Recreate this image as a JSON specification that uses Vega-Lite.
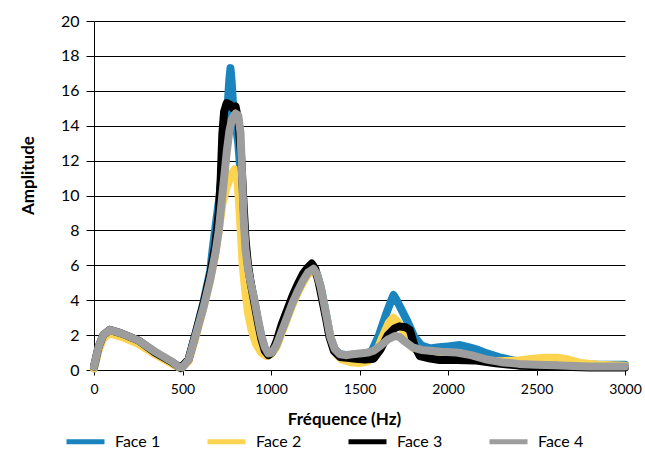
{
  "$schema": "https://vega.github.io/schema/vega-lite/v6.json",
  "width": 531,
  "height": 349,
  "autosize": {"type": "none"},
  "padding": {"left": 94, "top": 21, "right": 20, "bottom": 84},
  "background": "white",
  "config": {
    "view": {"stroke": null},
    "font": "Lato, sans-serif"
  },
  "data": {"values": [
{"s":"Face 1","f":0,"a":0.1},{"s":"Face 1","f":25,"a":1.2},{"s":"Face 1","f":52,"a":1.9},{"s":"Face 1","f":89,"a":2.2},{"s":"Face 1","f":155,"a":2.0},{"s":"Face 1","f":250,"a":1.6},{"s":"Face 1","f":345,"a":1.0},{"s":"Face 1","f":440,"a":0.4},{"s":"Face 1","f":490,"a":0.1},{"s":"Face 1","f":534,"a":0.6},{"s":"Face 1","f":572,"a":2.0},{"s":"Face 1","f":619,"a":3.9},{"s":"Face 1","f":657,"a":5.7},{"s":"Face 1","f":670,"a":6.9},{"s":"Face 1","f":690,"a":8.5},{"s":"Face 1","f":710,"a":10},{"s":"Face 1","f":730,"a":12},{"s":"Face 1","f":745,"a":13.8},{"s":"Face 1","f":758,"a":15.6},{"s":"Face 1","f":765,"a":16.7},{"s":"Face 1","f":771,"a":17.3},{"s":"Face 1","f":778,"a":16.5},{"s":"Face 1","f":785,"a":15.3},{"s":"Face 1","f":800,"a":14.2},{"s":"Face 1","f":815,"a":13},{"s":"Face 1","f":830,"a":11},{"s":"Face 1","f":845,"a":8.8},{"s":"Face 1","f":856,"a":7},{"s":"Face 1","f":870,"a":5.9},{"s":"Face 1","f":885,"a":5.0},{"s":"Face 1","f":907,"a":3.9},{"s":"Face 1","f":925,"a":2.9},{"s":"Face 1","f":945,"a":1.9},{"s":"Face 1","f":965,"a":1.2},{"s":"Face 1","f":985,"a":0.9},{"s":"Face 1","f":1005,"a":1.0},{"s":"Face 1","f":1030,"a":1.5},{"s":"Face 1","f":1060,"a":2.3},{"s":"Face 1","f":1090,"a":3.1},{"s":"Face 1","f":1120,"a":3.9},{"s":"Face 1","f":1150,"a":4.6},{"s":"Face 1","f":1180,"a":5.2},{"s":"Face 1","f":1210,"a":5.7},{"s":"Face 1","f":1235,"a":5.9},{"s":"Face 1","f":1260,"a":5.5},{"s":"Face 1","f":1280,"a":4.8},{"s":"Face 1","f":1296,"a":4.0},{"s":"Face 1","f":1315,"a":3.0},{"s":"Face 1","f":1335,"a":1.9},{"s":"Face 1","f":1360,"a":1.2},{"s":"Face 1","f":1390,"a":0.9},{"s":"Face 1","f":1430,"a":0.85},{"s":"Face 1","f":1480,"a":0.85},{"s":"Face 1","f":1530,"a":0.9},{"s":"Face 1","f":1570,"a":1.1},{"s":"Face 1","f":1610,"a":2.0},{"s":"Face 1","f":1650,"a":3.2},{"s":"Face 1","f":1680,"a":4.0},{"s":"Face 1","f":1692,"a":4.3},{"s":"Face 1","f":1710,"a":4.0},{"s":"Face 1","f":1740,"a":3.4},{"s":"Face 1","f":1770,"a":2.8},{"s":"Face 1","f":1810,"a":1.9},{"s":"Face 1","f":1850,"a":1.4},{"s":"Face 1","f":1897,"a":1.24},{"s":"Face 1","f":1950,"a":1.3},{"s":"Face 1","f":2000,"a":1.35},{"s":"Face 1","f":2068,"a":1.43},{"s":"Face 1","f":2120,"a":1.3},{"s":"Face 1","f":2170,"a":1.15},{"s":"Face 1","f":2220,"a":0.95},{"s":"Face 1","f":2300,"a":0.7},{"s":"Face 1","f":2370,"a":0.55},{"s":"Face 1","f":2450,"a":0.45},{"s":"Face 1","f":2550,"a":0.4},{"s":"Face 1","f":2700,"a":0.35},{"s":"Face 1","f":2850,"a":0.3},{"s":"Face 1","f":3000,"a":0.3},
{"s":"Face 2","f":0,"a":0.1},{"s":"Face 2","f":25,"a":1.1},{"s":"Face 2","f":52,"a":1.8},{"s":"Face 2","f":89,"a":2.1},{"s":"Face 2","f":155,"a":1.9},{"s":"Face 2","f":250,"a":1.5},{"s":"Face 2","f":345,"a":0.9},{"s":"Face 2","f":440,"a":0.35},{"s":"Face 2","f":490,"a":0.1},{"s":"Face 2","f":534,"a":0.5},{"s":"Face 2","f":572,"a":1.8},{"s":"Face 2","f":619,"a":3.6},{"s":"Face 2","f":657,"a":5.2},{"s":"Face 2","f":686,"a":6.7},{"s":"Face 2","f":705,"a":8.0},{"s":"Face 2","f":725,"a":9.5},{"s":"Face 2","f":750,"a":10.5},{"s":"Face 2","f":775,"a":11.2},{"s":"Face 2","f":795,"a":11.5},{"s":"Face 2","f":810,"a":11.0},{"s":"Face 2","f":820,"a":9.5},{"s":"Face 2","f":830,"a":7.8},{"s":"Face 2","f":840,"a":6.0},{"s":"Face 2","f":855,"a":4.5},{"s":"Face 2","f":870,"a":3.3},{"s":"Face 2","f":890,"a":2.3},{"s":"Face 2","f":915,"a":1.5},{"s":"Face 2","f":945,"a":1.0},{"s":"Face 2","f":975,"a":0.8},{"s":"Face 2","f":1000,"a":0.9},{"s":"Face 2","f":1030,"a":1.3},{"s":"Face 2","f":1060,"a":2.1},{"s":"Face 2","f":1090,"a":2.9},{"s":"Face 2","f":1120,"a":3.7},{"s":"Face 2","f":1150,"a":4.4},{"s":"Face 2","f":1180,"a":5.0},{"s":"Face 2","f":1210,"a":5.5},{"s":"Face 2","f":1240,"a":5.7},{"s":"Face 2","f":1260,"a":5.4},{"s":"Face 2","f":1280,"a":4.7},{"s":"Face 2","f":1296,"a":3.9},{"s":"Face 2","f":1315,"a":2.9},{"s":"Face 2","f":1340,"a":1.7},{"s":"Face 2","f":1370,"a":0.9},{"s":"Face 2","f":1400,"a":0.6},{"s":"Face 2","f":1450,"a":0.45},{"s":"Face 2","f":1500,"a":0.4},{"s":"Face 2","f":1550,"a":0.5},{"s":"Face 2","f":1590,"a":0.9},{"s":"Face 2","f":1630,"a":1.9},{"s":"Face 2","f":1665,"a":2.7},{"s":"Face 2","f":1690,"a":3.0},{"s":"Face 2","f":1720,"a":2.7},{"s":"Face 2","f":1760,"a":2.0},{"s":"Face 2","f":1800,"a":1.3},{"s":"Face 2","f":1850,"a":0.9},{"s":"Face 2","f":1900,"a":0.75},{"s":"Face 2","f":2000,"a":0.7},{"s":"Face 2","f":2100,"a":0.65},{"s":"Face 2","f":2200,"a":0.55},{"s":"Face 2","f":2300,"a":0.5},{"s":"Face 2","f":2400,"a":0.55},{"s":"Face 2","f":2480,"a":0.65},{"s":"Face 2","f":2550,"a":0.7},{"s":"Face 2","f":2620,"a":0.7},{"s":"Face 2","f":2680,"a":0.6},{"s":"Face 2","f":2750,"a":0.4},{"s":"Face 2","f":2850,"a":0.3},{"s":"Face 2","f":3000,"a":0.25},
{"s":"Face 3","f":0,"a":0.2},{"s":"Face 3","f":25,"a":1.3},{"s":"Face 3","f":52,"a":2.0},{"s":"Face 3","f":89,"a":2.3},{"s":"Face 3","f":155,"a":2.1},{"s":"Face 3","f":250,"a":1.7},{"s":"Face 3","f":345,"a":1.0},{"s":"Face 3","f":440,"a":0.45},{"s":"Face 3","f":490,"a":0.12},{"s":"Face 3","f":534,"a":0.6},{"s":"Face 3","f":572,"a":2.0},{"s":"Face 3","f":619,"a":3.8},{"s":"Face 3","f":657,"a":5.5},{"s":"Face 3","f":686,"a":7.2},{"s":"Face 3","f":705,"a":9},{"s":"Face 3","f":716,"a":11},{"s":"Face 3","f":725,"a":13.5},{"s":"Face 3","f":735,"a":14.8},{"s":"Face 3","f":750,"a":15.3},{"s":"Face 3","f":770,"a":15.2},{"s":"Face 3","f":785,"a":15.0},{"s":"Face 3","f":800,"a":15.1},{"s":"Face 3","f":815,"a":14.3},{"s":"Face 3","f":830,"a":12.5},{"s":"Face 3","f":845,"a":9.5},{"s":"Face 3","f":856,"a":7.5},{"s":"Face 3","f":870,"a":6.0},{"s":"Face 3","f":885,"a":5.0},{"s":"Face 3","f":907,"a":3.8},{"s":"Face 3","f":925,"a":2.8},{"s":"Face 3","f":945,"a":1.8},{"s":"Face 3","f":965,"a":1.1},{"s":"Face 3","f":985,"a":0.85},{"s":"Face 3","f":1005,"a":1.0},{"s":"Face 3","f":1030,"a":1.6},{"s":"Face 3","f":1060,"a":2.6},{"s":"Face 3","f":1090,"a":3.4},{"s":"Face 3","f":1120,"a":4.2},{"s":"Face 3","f":1150,"a":4.9},{"s":"Face 3","f":1180,"a":5.5},{"s":"Face 3","f":1210,"a":5.9},{"s":"Face 3","f":1230,"a":6.1},{"s":"Face 3","f":1250,"a":5.8},{"s":"Face 3","f":1270,"a":5.0},{"s":"Face 3","f":1290,"a":4.0},{"s":"Face 3","f":1310,"a":3.0},{"s":"Face 3","f":1330,"a":1.9},{"s":"Face 3","f":1355,"a":1.1},{"s":"Face 3","f":1390,"a":0.75},{"s":"Face 3","f":1430,"a":0.7},{"s":"Face 3","f":1480,"a":0.65},{"s":"Face 3","f":1530,"a":0.6},{"s":"Face 3","f":1580,"a":0.65},{"s":"Face 3","f":1620,"a":1.2},{"s":"Face 3","f":1660,"a":2.0},{"s":"Face 3","f":1700,"a":2.4},{"s":"Face 3","f":1725,"a":2.5},{"s":"Face 3","f":1760,"a":2.45},{"s":"Face 3","f":1784,"a":2.3},{"s":"Face 3","f":1810,"a":1.4},{"s":"Face 3","f":1841,"a":0.8},{"s":"Face 3","f":1900,"a":0.65},{"s":"Face 3","f":1953,"a":0.57},{"s":"Face 3","f":2050,"a":0.57},{"s":"Face 3","f":2150,"a":0.55},{"s":"Face 3","f":2270,"a":0.38},{"s":"Face 3","f":2400,"a":0.25},{"s":"Face 3","f":2600,"a":0.2},{"s":"Face 3","f":2800,"a":0.15},{"s":"Face 3","f":3000,"a":0.15},
{"s":"Face 4","f":0,"a":0.2},{"s":"Face 4","f":25,"a":1.3},{"s":"Face 4","f":52,"a":2.0},{"s":"Face 4","f":89,"a":2.3},{"s":"Face 4","f":155,"a":2.1},{"s":"Face 4","f":250,"a":1.7},{"s":"Face 4","f":345,"a":1.05},{"s":"Face 4","f":440,"a":0.48},{"s":"Face 4","f":477,"a":0.19},{"s":"Face 4","f":500,"a":0.15},{"s":"Face 4","f":534,"a":0.57},{"s":"Face 4","f":572,"a":1.9},{"s":"Face 4","f":619,"a":3.6},{"s":"Face 4","f":657,"a":5.2},{"s":"Face 4","f":686,"a":6.7},{"s":"Face 4","f":705,"a":8.0},{"s":"Face 4","f":720,"a":9.5},{"s":"Face 4","f":735,"a":11},{"s":"Face 4","f":750,"a":12.5},{"s":"Face 4","f":765,"a":13.7},{"s":"Face 4","f":780,"a":14.4},{"s":"Face 4","f":800,"a":14.7},{"s":"Face 4","f":815,"a":14.6},{"s":"Face 4","f":828,"a":13.6},{"s":"Face 4","f":837,"a":11},{"s":"Face 4","f":845,"a":8.8},{"s":"Face 4","f":856,"a":6.9},{"s":"Face 4","f":870,"a":5.8},{"s":"Face 4","f":885,"a":5.0},{"s":"Face 4","f":907,"a":4.0},{"s":"Face 4","f":925,"a":3.0},{"s":"Face 4","f":945,"a":2.0},{"s":"Face 4","f":965,"a":1.3},{"s":"Face 4","f":985,"a":0.95},{"s":"Face 4","f":1005,"a":1.0},{"s":"Face 4","f":1030,"a":1.4},{"s":"Face 4","f":1060,"a":2.2},{"s":"Face 4","f":1090,"a":3.0},{"s":"Face 4","f":1120,"a":3.8},{"s":"Face 4","f":1150,"a":4.5},{"s":"Face 4","f":1180,"a":5.1},{"s":"Face 4","f":1210,"a":5.6},{"s":"Face 4","f":1240,"a":5.8},{"s":"Face 4","f":1260,"a":5.5},{"s":"Face 4","f":1280,"a":4.8},{"s":"Face 4","f":1296,"a":4.0},{"s":"Face 4","f":1315,"a":3.0},{"s":"Face 4","f":1335,"a":1.9},{"s":"Face 4","f":1360,"a":1.2},{"s":"Face 4","f":1390,"a":0.9},{"s":"Face 4","f":1420,"a":0.85},{"s":"Face 4","f":1460,"a":0.9},{"s":"Face 4","f":1500,"a":0.95},{"s":"Face 4","f":1550,"a":1.0},{"s":"Face 4","f":1580,"a":1.1},{"s":"Face 4","f":1620,"a":1.4},{"s":"Face 4","f":1660,"a":1.75},{"s":"Face 4","f":1700,"a":1.95},{"s":"Face 4","f":1725,"a":1.9},{"s":"Face 4","f":1760,"a":1.6},{"s":"Face 4","f":1800,"a":1.3},{"s":"Face 4","f":1850,"a":1.15},{"s":"Face 4","f":1900,"a":1.1},{"s":"Face 4","f":1960,"a":1.05},{"s":"Face 4","f":2050,"a":1.0},{"s":"Face 4","f":2130,"a":0.85},{"s":"Face 4","f":2220,"a":0.6},{"s":"Face 4","f":2300,"a":0.45},{"s":"Face 4","f":2400,"a":0.35},{"s":"Face 4","f":2500,"a":0.3},{"s":"Face 4","f":2600,"a":0.27},{"s":"Face 4","f":2710,"a":0.23},{"s":"Face 4","f":2800,"a":0.2},{"s":"Face 4","f":2900,"a":0.2},{"s":"Face 4","f":3000,"a":0.2}
  ]},
  "mark": {"type": "line", "strokeWidth": 8, "strokeJoin": "round", "strokeCap": "round"},
  "encoding": {
    "x": {
      "field": "f", "type": "quantitative",
      "scale": {"domain": [0, 3000], "nice": false, "zero": false},
      "axis": {
        "title": "Fréquence (Hz)", "values": [0, 500, 1000, 1500, 2000, 2500, 3000], "format": "d",
        "grid": false, "domainColor": "black", "domainWidth": 1, "tickColor": "black", "tickSize": 5,
        "labelFontSize": 14, "labelColor": "black", "labelPadding": 7, "labelFlush": false,
        "titleFontSize": 17, "titleFontWeight": "bold", "titleColor": "black",
        "titleX": 250, "titleY": 54, "titleBaseline": "alphabetic", "titleAnchor": null
      }
    },
    "y": {
      "field": "a", "type": "quantitative",
      "scale": {"domain": [0, 20], "nice": false},
      "axis": {
        "title": "Amplitude", "values": [0, 2, 4, 6, 8, 10, 12, 14, 16, 18, 20],
        "grid": true, "gridColor": "black", "gridWidth": 1, "gridOpacity": 1,
        "domainColor": "black", "domainWidth": 1, "tickColor": "black", "tickSize": 8,
        "labelFontSize": 16, "labelColor": "black", "labelPadding": 7, "labelFlush": false,
        "titleFontSize": 17, "titleFontWeight": "bold", "titleColor": "black",
        "titleX": -61, "titleY": 154, "titleBaseline": "alphabetic", "titleAlign": "center", "titleAnchor": null
      }
    },
    "color": {
      "field": "s", "type": "nominal",
      "scale": {"domain": ["Face 1", "Face 2", "Face 3", "Face 4"], "range": ["#1a84bf", "#fcd450", "#000000", "#9d9d9d"]},
      "legend": {
        "title": null, "orient": "none", "direction": "horizontal", "columns": 4,
        "legendX": -30, "legendY": 399, "padding": 0,
        "symbolType": "stroke", "symbolSize": 1444, "symbolStrokeWidth": 5,
        "labelFontSize": 16, "labelColor": "black", "labelOffset": 8, "columnPadding": 36
      }
    }
  }
}
